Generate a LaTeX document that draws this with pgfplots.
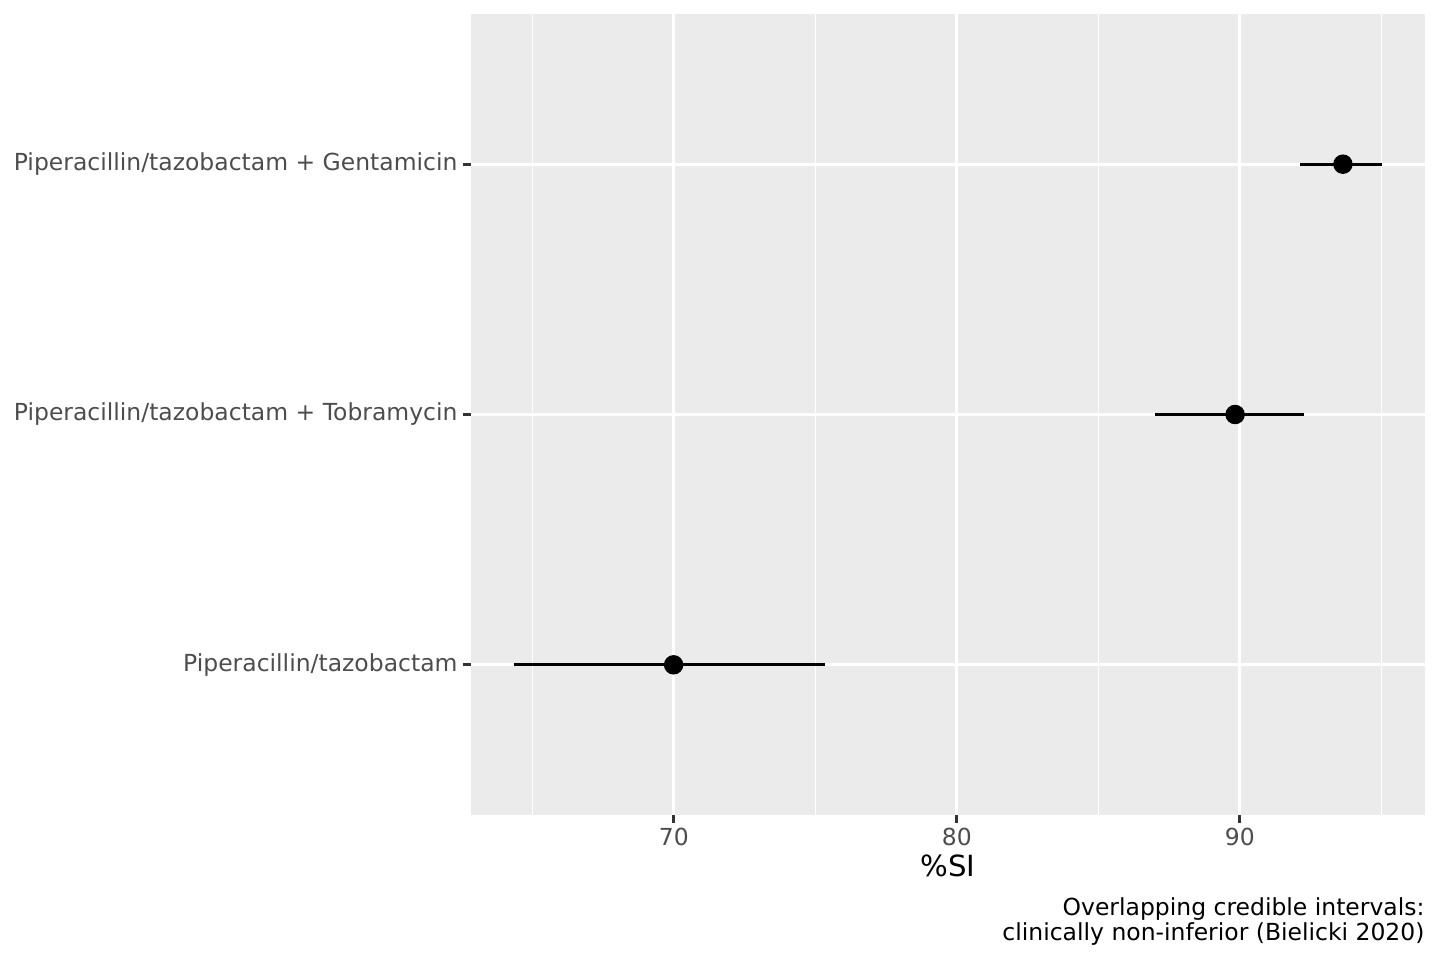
\documentclass[border=0pt]{standalone}
\usepackage{pgfplots}
\pgfplotsset{compat=1.18}
\usepackage{fontspec}
\setmainfont{DejaVu Sans}
\definecolor{ggbg}{HTML}{EBEBEB}
\definecolor{gray30}{HTML}{4D4D4D}
\definecolor{gray20}{HTML}{333333}
\begin{document}
\begin{tikzpicture}
\path[use as bounding box] (-169.56pt,-52.2pt) rectangle (348.84pt,293.4pt);
\begin{axis}[
  at={(0,0)}, anchor=south west,
  scale only axis, width=343.44pt, height=288.36pt,
  xmin=62.83, xmax=96.54, ymin=0.4, ymax=3.6,
  axis line style={draw=none},
  axis background/.style={fill=ggbg},
  xtick={70,80,90}, minor xtick={65,75,85,95},
  ytick={1,2,3},
  yticklabels={Piperacillin/tazobactam, Piperacillin/tazobactam + Tobramycin, Piperacillin/tazobactam + Gentamicin},
  xmajorgrids, xminorgrids, ymajorgrids,
  major grid style={white, line width=1.07pt},
  minor grid style={white, line width=0.53pt},
  tick align=outside, major tick length=2.75pt, minor tick length=0pt,
  tick style={gray20, line width=1.07pt},
  xtick pos=bottom, ytick pos=left,
  /pgf/number format/assume math mode=true,
  ticklabel style={font=\fontsize{8.45}{10}\selectfont, text=gray30},
  xticklabel style={yshift=1.6pt},
  yticklabel style={xshift=1.4pt},
  xlabel={\%SI},
  xlabel style={font=\fontsize{10.5}{12.5}\selectfont, at={(axis description cs:0.5,0)}, anchor=center, yshift=-18.2pt},
  clip=false,
]
\addplot[black, line width=1.07pt] coordinates {(64.35,1) (75.34,1)};
\addplot[black, line width=1.07pt] coordinates {(87.0,2) (92.27,2)};
\addplot[black, line width=1.07pt] coordinates {(92.12,3) (95.01,3)};
\addplot[only marks, mark=*, mark size=3.3pt, black] coordinates {(69.99,1) (89.83,2) (93.64,3)};
\end{axis}
\node[anchor=base east, inner sep=0pt, font=\fontsize{8.45}{10}\selectfont] at (343.44pt,-36pt) {Overlapping credible intervals:};
\node[anchor=base east, inner sep=0pt, font=\fontsize{8.45}{10}\selectfont] at (343.44pt,-45pt) {clinically non-inferior (Bielicki 2020)};
\end{tikzpicture}
\end{document}
